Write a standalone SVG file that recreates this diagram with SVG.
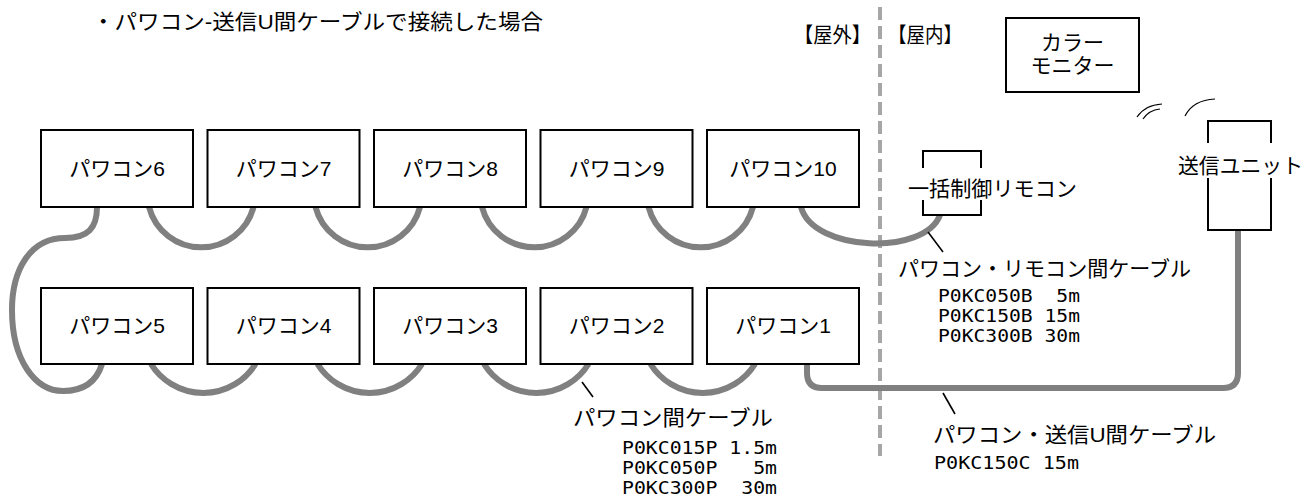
<svg xmlns="http://www.w3.org/2000/svg" width="1314" height="503" viewBox="0 0 1314 503">
<style>
.box{fill:#fff;stroke:#000;stroke-width:2}
.jp{font-family:'Liberation Sans','Noto Sans CJK JP',sans-serif;font-size:21px;fill:#000}
.lbl{text-anchor:middle}
.mono{font-family:'DejaVu Sans Mono','Liberation Mono',monospace;font-size:18px;fill:#000}
.cable{fill:none;stroke:#808080;stroke-width:6}
.lead{fill:none;stroke:#000;stroke-width:1.6}
.wave{fill:none;stroke:#000;stroke-width:1.2}
.wall{fill:none;stroke:#a6a6a6;stroke-width:4;stroke-dasharray:13 6}
</style>
<rect width="1314" height="503" fill="#fff"/>
<text class="jp" x="92" y="29" textLength="451" lengthAdjust="spacingAndGlyphs">・パワコン-送信U間ケーブルで接続した場合</text>
<g id="wall">
<line class="wall" x1="880" y1="7" x2="880" y2="456"/>
<text class="jp" x="794" y="42" textLength="77" lengthAdjust="spacingAndGlyphs">【屋外】</text>
<text class="jp" x="888" y="42" textLength="74" lengthAdjust="spacingAndGlyphs">【屋内】</text>
</g>
<g id="connectors">
<path class="cable" d="M149,207 A54,54 0 0 0 253.5,207"/>
<path class="cable" d="M315.5,207 A54,54 0 0 0 420,207"/>
<path class="cable" d="M482,207 A54,54 0 0 0 586.5,207"/>
<path class="cable" d="M648.5,207 A54,54 0 0 0 753,207"/>
<path class="cable" d="M151,364 A61.6,61.6 0 0 0 255.5,364"/>
<path class="cable" d="M317.5,364 A61.6,61.6 0 0 0 422,364"/>
<path class="cable" d="M484,364 A61.6,61.6 0 0 0 588.5,364"/>
<path class="cable" d="M650.5,364 A61.6,61.6 0 0 0 755,364"/>
<path class="cable" d="M97,207 C97,228 88,238 65,238 C30,238 12,270 12,310 C12,360 35,391 63,391 C85,391 97,380 102,364"/>
<path class="cable" d="M801,207 C813,252 925,256 940,215"/>
<path class="cable" d="M1238,230 V373 Q1238,388 1223,388 H822 Q807,388 807,373 V364"/>
<line class="lead" x1="582" y1="382" x2="593" y2="397"/>
<line class="lead" x1="928" y1="232" x2="943" y2="252"/>
<line class="lead" x1="943" y1="393" x2="955" y2="414"/>
</g>
<g id="waves">
<path class="wave" d="M1137,117 Q1145,105 1162,104"/>
<path class="wave" d="M1143,119 Q1149,110 1160,109"/>
<path class="wave" d="M1185,116 Q1193,100 1215,99"/>
</g>
<g id="pc6"><rect class="box" x="41" y="130" width="152" height="77"/><text class="jp lbl" x="117" y="176">パワコン6</text></g>
<g id="pc7"><rect class="box" x="207.5" y="130" width="152" height="77"/><text class="jp lbl" x="283.5" y="176">パワコン7</text></g>
<g id="pc8"><rect class="box" x="374" y="130" width="152" height="77"/><text class="jp lbl" x="450" y="176">パワコン8</text></g>
<g id="pc9"><rect class="box" x="540.5" y="130" width="152" height="77"/><text class="jp lbl" x="616.5" y="176">パワコン9</text></g>
<g id="pc10"><rect class="box" x="707" y="130" width="152" height="77"/><text class="jp lbl" x="783" y="176">パワコン10</text></g>
<g id="pc5"><rect class="box" x="41" y="288" width="152" height="76"/><text class="jp lbl" x="117" y="333">パワコン5</text></g>
<g id="pc4"><rect class="box" x="207.5" y="288" width="152" height="76"/><text class="jp lbl" x="283.5" y="333">パワコン4</text></g>
<g id="pc3"><rect class="box" x="374" y="288" width="152" height="76"/><text class="jp lbl" x="450" y="333">パワコン3</text></g>
<g id="pc2"><rect class="box" x="540.5" y="288" width="152" height="76"/><text class="jp lbl" x="616.5" y="333">パワコン2</text></g>
<g id="pc1"><rect class="box" x="707" y="288" width="152" height="76"/><text class="jp lbl" x="783" y="333">パワコン1</text></g>
<g id="monitor"><rect class="box" x="1006" y="18" width="133" height="74"/><text class="jp lbl" x="1072.5" y="50">カラー</text><text class="jp lbl" x="1072.5" y="73">モニター</text></g>
<g id="remote"><rect class="box" x="923" y="151" width="58" height="64"/><rect x="906" y="168" width="174" height="32" fill="#fff"/><text class="jp" x="908" y="196" textLength="169" lengthAdjust="spacingAndGlyphs">一括制御リモコン</text></g>
<g id="transmitter"><rect class="box" x="1208" y="121" width="63" height="109"/><rect x="1176" y="143" width="130" height="35" fill="#fff"/><text class="jp" x="1178" y="173" textLength="125" lengthAdjust="spacingAndGlyphs">送信ユニット</text></g>
<g id="label-pc-cable">
<text class="jp" x="573" y="425" textLength="200" lengthAdjust="spacingAndGlyphs">パワコン間ケーブル</text>
<text class="mono" xml:space="preserve" x="622" y="454" textLength="155" lengthAdjust="spacingAndGlyphs">P0KC015P 1.5m</text>
<text class="mono" xml:space="preserve" x="622" y="474" textLength="155" lengthAdjust="spacingAndGlyphs">P0KC050P   5m</text>
<text class="mono" xml:space="preserve" x="622" y="494" textLength="155" lengthAdjust="spacingAndGlyphs">P0KC300P  30m</text>
</g>
<g id="label-remote-cable">
<text class="jp" x="898" y="276" textLength="293" lengthAdjust="spacingAndGlyphs">パワコン・リモコン間ケーブル</text>
<text class="mono" xml:space="preserve" x="938" y="302" textLength="142" lengthAdjust="spacingAndGlyphs">P0KC050B  5m</text>
<text class="mono" xml:space="preserve" x="938" y="322" textLength="142" lengthAdjust="spacingAndGlyphs">P0KC150B 15m</text>
<text class="mono" xml:space="preserve" x="938" y="342" textLength="142" lengthAdjust="spacingAndGlyphs">P0KC300B 30m</text>
</g>
<g id="label-tx-cable">
<text class="jp" x="933" y="442" textLength="283" lengthAdjust="spacingAndGlyphs">パワコン・送信U間ケーブル</text>
<text class="mono" xml:space="preserve" x="934" y="469" textLength="145" lengthAdjust="spacingAndGlyphs">P0KC150C 15m</text>
</g>
</svg>
